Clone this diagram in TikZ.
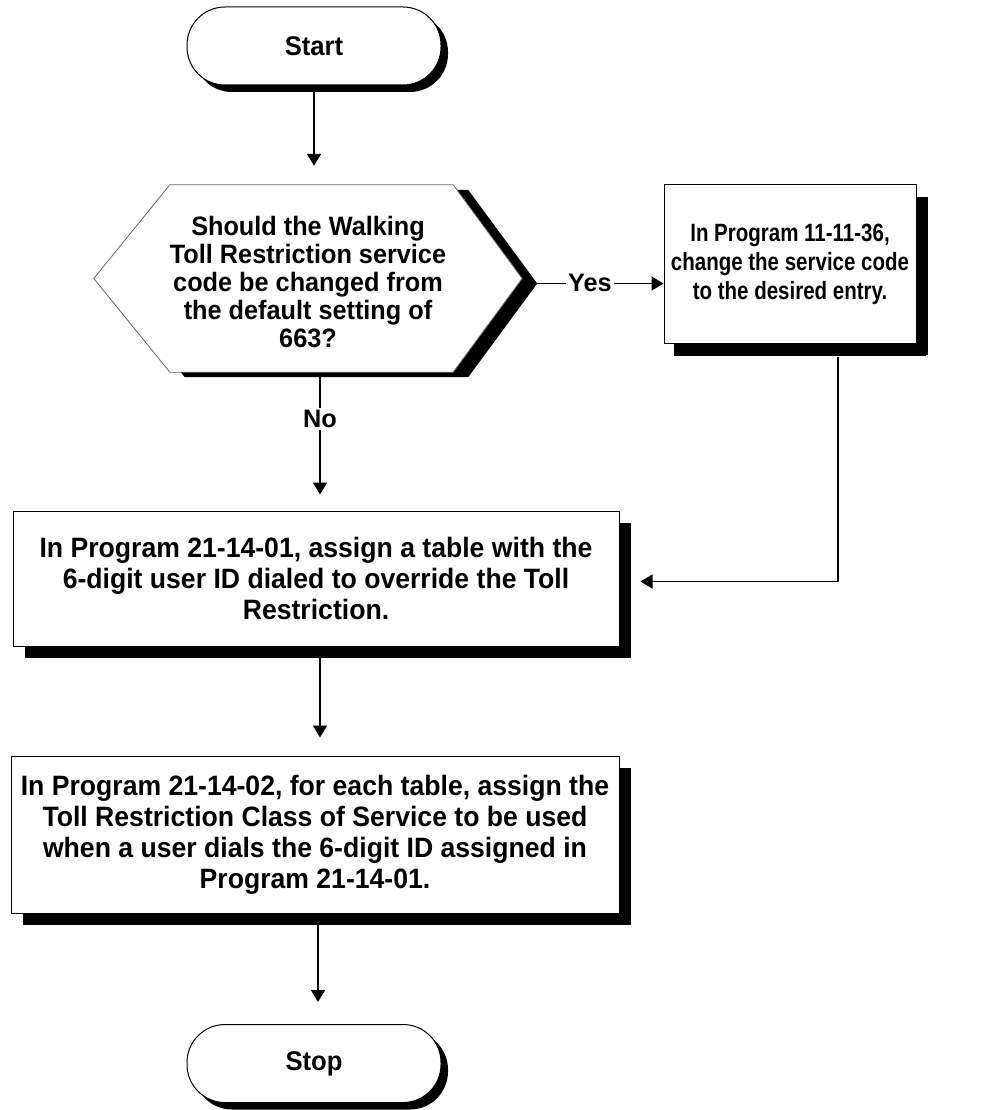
\documentclass[tikz,border=0pt]{standalone}
\usepackage{fontspec}
\setmainfont{Liberation Sans}
\newfontfamily\stepfont[FakeStretch=0.95]{Liberation Sans}
\newfontfamily\narrowfont[FakeStretch=0.82]{Liberation Sans}
\usetikzlibrary{arrows.meta,shadows}

\begin{document}
\begin{tikzpicture}[x=1pt,y=-1pt,
  boxshadow/.style={drop shadow={shadow xshift=12pt,shadow yshift=-12pt,fill=black,opacity=1}},
  termshadow/.style={drop shadow={shadow xshift=7pt,shadow yshift=-7pt,fill=black,opacity=1}},
  term/.style={draw=black,line width=1pt,fill=white,rounded corners=38pt,
    minimum width=254pt,minimum height=78pt,inner sep=0pt,termshadow,
    font=\stepfont\fontsize{27pt}{29pt}\selectfont\bfseries},
  stepbox/.style={draw=black,line width=1pt,fill=white,inner sep=0pt,align=center,boxshadow,
    font=\stepfont\fontsize{28pt}{31pt}\selectfont\bfseries},
  lbl/.style={fill=white,inner sep=2pt,font=\fontsize{25.3pt}{27pt}\selectfont\bfseries},
  conn/.style={line width=1.6pt,-{Triangle[length=12pt,width=14pt]}},
]
\useasboundingbox (0,0) rectangle (992,1110);

% terminals
\node[term] (start) at (314,46) {Start};
\node[term] (stop) at (314,1063.5) {Stop};

% decision: hexagon built on an invisible frame node
\node[minimum width=428pt,minimum height=187pt,inner sep=0pt] (dec) at (308,278.5) {};
\filldraw[draw=black!60,line width=0.8pt,fill=white,
  drop shadow={shadow xshift=15pt,shadow yshift=-5pt,fill=black,opacity=1}]
  (dec.west) -- ([xshift=76pt]dec.north west) -- ([xshift=-69pt]dec.north east)
  -- (dec.east) -- ([xshift=-69pt]dec.south east) -- ([xshift=76pt]dec.south west) -- cycle;
\node[align=center,inner sep=0pt,font=\stepfont\fontsize{26.6pt}{28pt}\selectfont\bfseries]
  (dectext) at (308,282) {Should the Walking\\Toll Restriction service\\code be changed from\\the default setting of\\663?};

% process boxes
\node[stepbox,minimum width=252pt,minimum height=158pt,
  drop shadow={shadow xshift=10pt,shadow yshift=-13pt,fill=black,opacity=1},
  font=\narrowfont\fontsize{25pt}{29pt}\selectfont\bfseries]
  (rbox) at (790,264) {In Program 11-11-36,\\change the service code\\to the desired entry.};
\node[stepbox,minimum width=606pt,minimum height=135pt] (b1) at (316,578.5)
  {In Program 21-14-01, assign a table with the\\6-digit user ID dialed to override the Toll\\Restriction.};
\node[stepbox,minimum width=608pt,minimum height=157pt] (b2) at (315,834.5)
  {In Program 21-14-02, for each table, assign the\\Toll Restriction Class of Service to be used\\when a user dials the 6-digit ID assigned in\\Program 21-14-01.};

% connector end points
\coordinate (dtip) at ([shift={(15pt,-5pt)}]dec.east);
\coordinate (dno) at (320,377);
\coordinate (rbout) at ([shift={(48pt,-13pt)}]rbox.south);
\coordinate (b1in) at ([shift={(21pt,-3pt)}]b1.east);
\coordinate (b1out) at (320,658);
\coordinate (b2out) at (318,925);

% connectors
\draw[conn,shorten >=19pt] ([yshift=-7pt]start.south) -- (start.south |- dec.north);
\draw[conn] (dtip) -- (dtip -| rbox.west);
\node[lbl] (yes) at (590,283) {Yes};
\draw[conn,shorten >=16pt] (dno) -- (dno |- b1.north);
\node[lbl] (no) at (320,419) {No};
\draw[conn] (rbout) |- (b1in);
\draw[conn,shorten >=18pt] (b1out) -- (b1out |- b2.north);
\draw[conn,shorten >=22pt] (b2out) -- (b2out |- stop.north);
\end{tikzpicture}
\end{document}
